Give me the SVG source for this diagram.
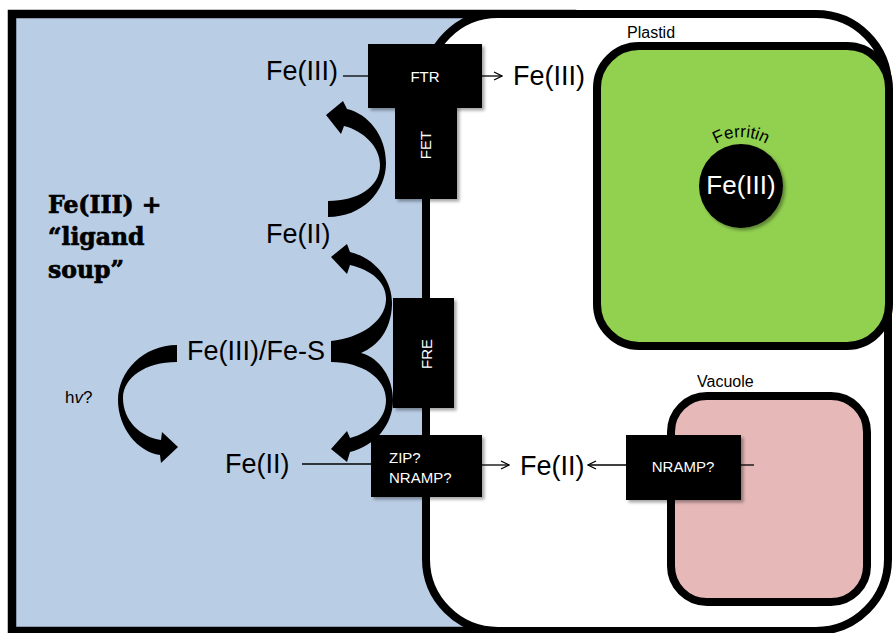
<svg xmlns="http://www.w3.org/2000/svg" width="894" height="633" viewBox="0 0 894 633">
<defs>
<style>
.lbl{font-family:"Liberation Sans",Arial,sans-serif;fill:#000}
.big{font-size:27px}
.sm{font-size:16px}
.box{fill:#000;filter:url(#sh)}
.wt{font-family:"Liberation Sans",Arial,sans-serif;fill:#fff;font-size:15px}
.ln{stroke:#000;stroke-width:1.3;fill:none}
.cv{fill:#000}
.soup{font-family:"DejaVu Serif","Liberation Serif",serif;font-weight:bold;font-size:23.5px;fill:#000;stroke:#000;stroke-width:0.7}
</style>
<filter id="sh" x="-10%" y="-10%" width="130%" height="130%"><feDropShadow dx="2.5" dy="2.5" stdDeviation="1.5" flood-color="#000" flood-opacity="0.35"/></filter>
<marker id="ah" viewBox="0 0 10 10" refX="9" refY="5" markerWidth="10" markerHeight="10" markerUnits="userSpaceOnUse" orient="auto"><path d="M1,1 L9,5 L1,9" fill="none" stroke="#000" stroke-width="1.3"/></marker>
<path id="farc" d="M692,186 A49,49 0 0 1 790,186"/>
</defs>

<g id="extracellular">
<rect x="12" y="14" width="560" height="617" fill="#B9CDE5" stroke="#000" stroke-width="8.5"/>
<text class="soup" x="48" y="213">Fe(III) +</text>
<text class="soup" x="48" y="245">“ligand</text>
<text class="soup" x="48" y="278">soup”</text>
</g>

<g id="cell">
<rect x="426" y="14" width="462" height="617" rx="72" ry="72" fill="#fff" stroke="#000" stroke-width="8"/>
</g>

<g id="plastid">
<rect x="597" y="46" width="292" height="300" rx="42" ry="42" fill="#92D050" stroke="#000" stroke-width="8"/>
<text class="lbl sm" x="627" y="38">Plastid</text>
</g>

<g id="ferritin">
<circle cx="741" cy="186" r="42" fill="#000" filter="url(#sh)"/>
<text class="lbl" font-size="17"><textPath href="#farc" startOffset="50%" text-anchor="middle">Ferritin</textPath></text>
<text x="741" y="194" text-anchor="middle" font-family="Liberation Sans,Arial,sans-serif" font-size="26" fill="#fff">Fe(III)</text>
</g>

<g id="vacuole">
<rect x="671" y="396" width="196" height="206" rx="36" ry="36" fill="#E6B9B8" stroke="#000" stroke-width="8"/>
<text class="lbl sm" x="697" y="387">Vacuole</text>
</g>

<g id="FET">
<rect class="box" x="395" y="106" width="62" height="93"/>
<text class="wt" transform="translate(431,145) rotate(-90)" text-anchor="middle">FET</text>
</g>
<g id="FTR">
<rect class="box" x="368" y="44" width="114" height="64"/>
<text class="wt" x="425" y="82" text-anchor="middle">FTR</text>
</g>
<g id="FRE">
<rect class="box" x="393" y="298" width="61" height="110"/>
<text class="wt" font-size="16" transform="translate(432,354) rotate(-90)" text-anchor="middle">FRE</text>
</g>
<g id="ZIP">
<rect class="box" x="371" y="435" width="111" height="62"/>
<text class="wt" font-size="16" x="389" y="463">ZIP?</text>
<text class="wt" font-size="16" x="389" y="483">NRAMP?</text>
</g>
<g id="NRAMPvac">
<rect class="box" x="626" y="435" width="115" height="65"/>
<text class="wt" font-size="16" x="683" y="472" text-anchor="middle">NRAMP?</text>
</g>

<g id="labels">
<text class="lbl big" x="266" y="80">Fe(III)</text>
<text class="lbl big" x="513" y="85">Fe(III)</text>
<text class="lbl big" x="266" y="243">Fe(II)</text>
<text class="lbl big" x="187" y="360">Fe(III)/Fe-S</text>
<text class="lbl big" x="225" y="473">Fe(II)</text>
<text class="lbl big" x="520" y="475">Fe(II)</text>
<text class="lbl" font-size="17" x="65" y="403">h<tspan font-style="italic">v</tspan>?</text>
</g>

<g id="connectors">
<line class="ln" x1="343" y1="76" x2="368" y2="76"/>
<line class="ln" x1="482" y1="76" x2="502" y2="76" marker-end="url(#ah)"/>
<line class="ln" x1="302" y1="464" x2="371" y2="464"/>
<line class="ln" x1="482" y1="465" x2="509" y2="465" marker-end="url(#ah)"/>
<line class="ln" x1="626" y1="465" x2="588" y2="465" marker-end="url(#ah)"/>
<line class="ln" x1="741" y1="465" x2="754" y2="465"/>
<!-- top curved arrow Fe(II) -> Fe(III) -->
<path class="cv" d="M328,217 C362,217 386,192 386,163 C386,135 368,114 347,109 L343,101 L326,115 L341,134 L344,126 C364,131 380,147 380,165 C380,187 358,201 328,201 Z"/>
<!-- middle brace: Fe(III)/Fe-S -> Fe(II) up and down -->
<path class="cv" d="M331,341 C360,338 385,322 386,300 C387,283 372,270 350,265 L347,274 L331,257 L347,244 L350,252 C375,258 393,280 392,305 C391,330 378,346 361,353 C380,358 393,378 393,400 C393,425 375,446 350,452 L347,462 L331,449 L347,431 L350,438 C372,432 386,418 386,400 C386,378 362,362 331,362 Z"/>
<!-- left arrow (hv) -->
<path class="cv" d="M177,345 C143,345 118,372 118,400 C118,428 138,452 160,455 L161,463 L178,447 L162,432 L161,440 C140,437 123,420 123,398 C123,378 145,362 177,362 Z"/>
</g>
</svg>
